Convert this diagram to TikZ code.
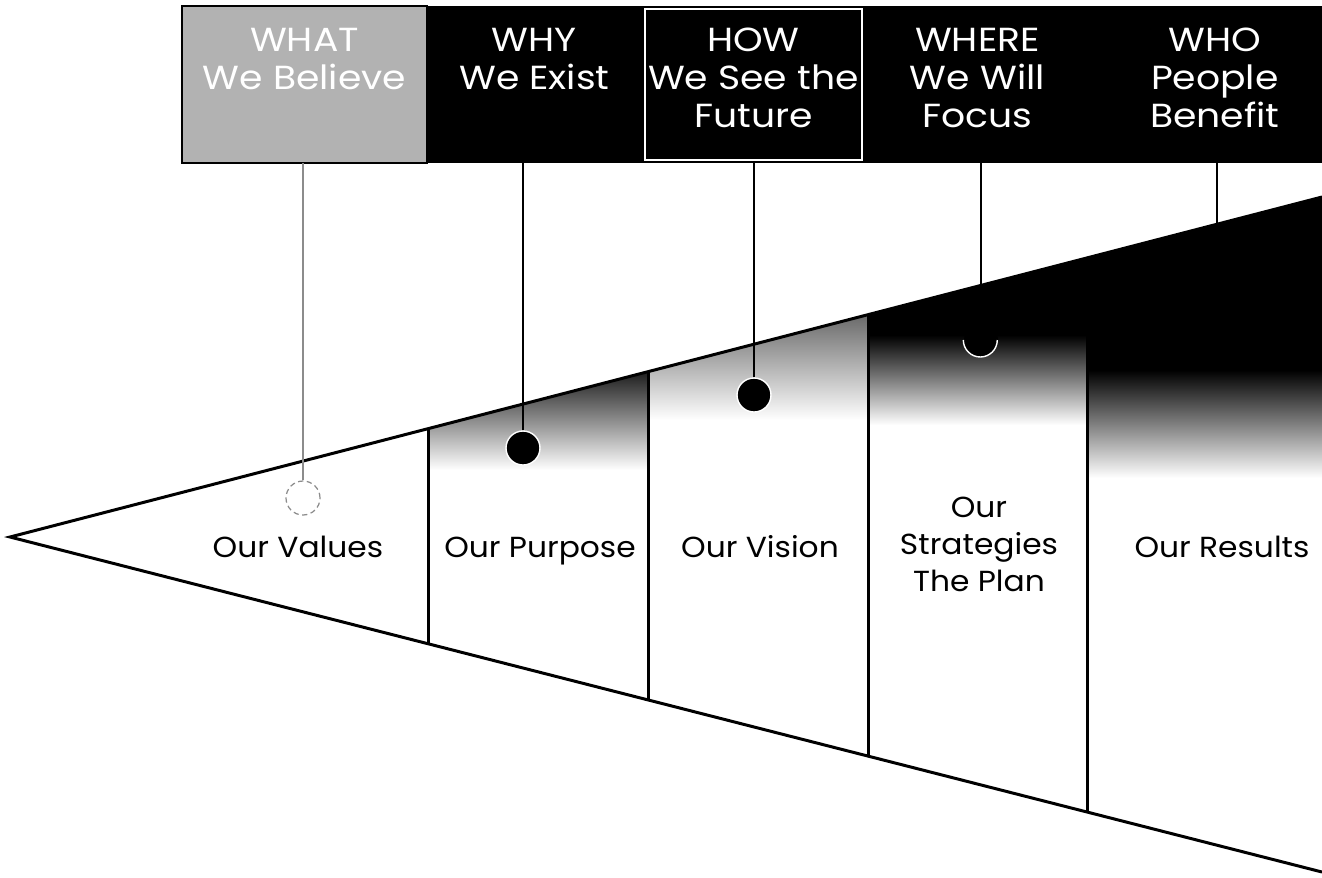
\documentclass[tikz,border=0pt]{standalone}
\usepackage{fontspec}
\setmainfont{Poppins}
\newfontfamily\headfont{Poppins}[FakeStretch=1.13]
\newfontfamily\labelfont{Poppins}[FakeStretch=1.08]
\usetikzlibrary{positioning,calc}

\begin{document}
\begin{tikzpicture}[
    x=0.02cm, y=-0.02cm,
    edge/.style={line width=1.7pt, line join=miter},
    drop/.style={line width=1.5pt},
    hbox/.style={
        rectangle,
        fill=black,
        inner sep=0pt,
        outer sep=0pt,
        minimum height=3.14cm
    },
    htext/.style={anchor=north, inner sep=0pt, align=center, text=white, font=\headfont\fontsize{19}{21.6}\selectfont},
    ltext/.style={anchor=base, align=center, font=\labelfont\fontsize{16.5}{21}\selectfont},
    dot/.style={circle, fill=black, draw=white, line width=0.8pt, minimum size=0.68cm, inner sep=0pt},
    opendot/.style={dot, fill=white, draw=black!45, densely dashed, line width=0.7pt}
]
\useasboundingbox (0,0) rectangle (1322,877);

% funnel corners and the divider ends on both edges
\coordinate (tip) at (10,537);
\coordinate (tr) at (1322,197);
\coordinate (br) at (1322,872);
\coordinate (u1) at ($(tip)!0.3186!(tr)$);
\coordinate (d1) at ($(tip)!0.3186!(br)$);
\coordinate (u2) at ($(tip)!0.4863!(tr)$);
\coordinate (d2) at ($(tip)!0.4863!(br)$);
\coordinate (u3) at ($(tip)!0.6540!(tr)$);
\coordinate (d3) at ($(tip)!0.6540!(br)$);
\coordinate (u4) at ($(tip)!0.8216!(tr)$);
\coordinate (d4) at ($(tip)!0.8216!(br)$);

% shaded tops of the sections
\begin{scope}
\clip (u1) -- (u2) -- (d2) -- (d1) -- cycle;
\shade[top color=black!90, middle color=black!55, bottom color=white] (428,370) rectangle (648,470);
\end{scope}
\begin{scope}
\clip (u2) -- (u3) -- (d3) -- (d2) -- cycle;
\shade[top color=black!60, bottom color=white] (648,312) rectangle (868,420);
\end{scope}
\begin{scope}
\clip (u3) -- (u4) -- (d4) -- (d3) -- cycle;
\fill[black] (868,250) rectangle (1088,335);
\shade[top color=black, middle color=black!55, bottom color=white] (868,335) rectangle (1088,425);
\end{scope}
\begin{scope}
\clip (u4) -- (tr) -- (br) -- (d4) -- cycle;
\fill[black] (1088,190) rectangle (1322,370);
\shade[top color=black, middle color=black!60, bottom color=white] (1088,370) rectangle (1322,478);
\end{scope}

% funnel outline and dividers
\draw[edge] (tr) -- (tip) -- (br);
\draw[edge] (u1) -- (d1);
\draw[edge] (u2) -- (d2);
\draw[edge] (u3) -- (d3);
\draw[edge] (u4) -- (d4);

% header bar
\node[hbox, fill=black!30, draw=black, line width=1.2pt, minimum width=4.9cm] (what) at (304.5,84.5) {};
\node[hbox, minimum width=4.3cm, right=0pt of what] (why) {};
\node[hbox, minimum width=4.46cm, right=0pt of why] (how) {};
\node[hbox, minimum width=4.5cm, right=0pt of how] (where) {};
\node[hbox, minimum width=4.64cm, right=0pt of where] (who) {};
\draw[white, line width=0.9pt] ([shift={(3,3)}]how.north west) rectangle ([shift={(-3,-3)}]how.south east);

\node[htext] (whatt) at ([yshift=-0.44cm]what.north) {WHAT\\We Believe};
\node[htext] (whyt) at ([yshift=-0.44cm]why.north) {WHY\\We Exist};
\node[htext] (howt) at ([yshift=-0.44cm]how.north) {HOW\\We See the\\Future};
\node[htext] (wheret) at ([yshift=-0.44cm]where.north) {WHERE\\We Will\\Focus};
\node[htext] (whot) at ([xshift=0.18cm,yshift=-0.44cm]who.north) {WHO\\People\\Benefit};

% markers hanging from the header
\node[opendot] (vdot) at (303,498) {};
\node[dot] (pdot) at (523,448) {};
\node[dot] (vidot) at (754,395) {};
\node[dot, draw=none] (sdot) at (981,340) {};
\draw[white, line width=0.8pt] (sdot.west) arc[start angle=180, end angle=360, radius=0.34cm];
\node[dot, draw=none] (rdot) at (1217,285) {};

\draw[drop, black!45] (vdot) -- (vdot |- what.south);
\draw[drop] (pdot) -- (pdot |- why.south);
\draw[drop] (vidot) -- (vidot |- how.south);
\draw[drop] (sdot) -- (sdot |- where.south);
\draw[drop] (rdot) -- (rdot |- who.south);

% section labels
\node[ltext] (values) at (298,557) {Our Values};
\node[ltext] (purpose) at (540,557) {Our Purpose};
\node[ltext] (vision) at (760,557) {Our Vision};
\node[ltext, anchor=north, inner sep=0pt] (strategies) at (979,497) {Our\\Strategies\\The Plan};
\node[ltext] (results) at (1222,557) {Our Results};

\end{tikzpicture}
\end{document}
